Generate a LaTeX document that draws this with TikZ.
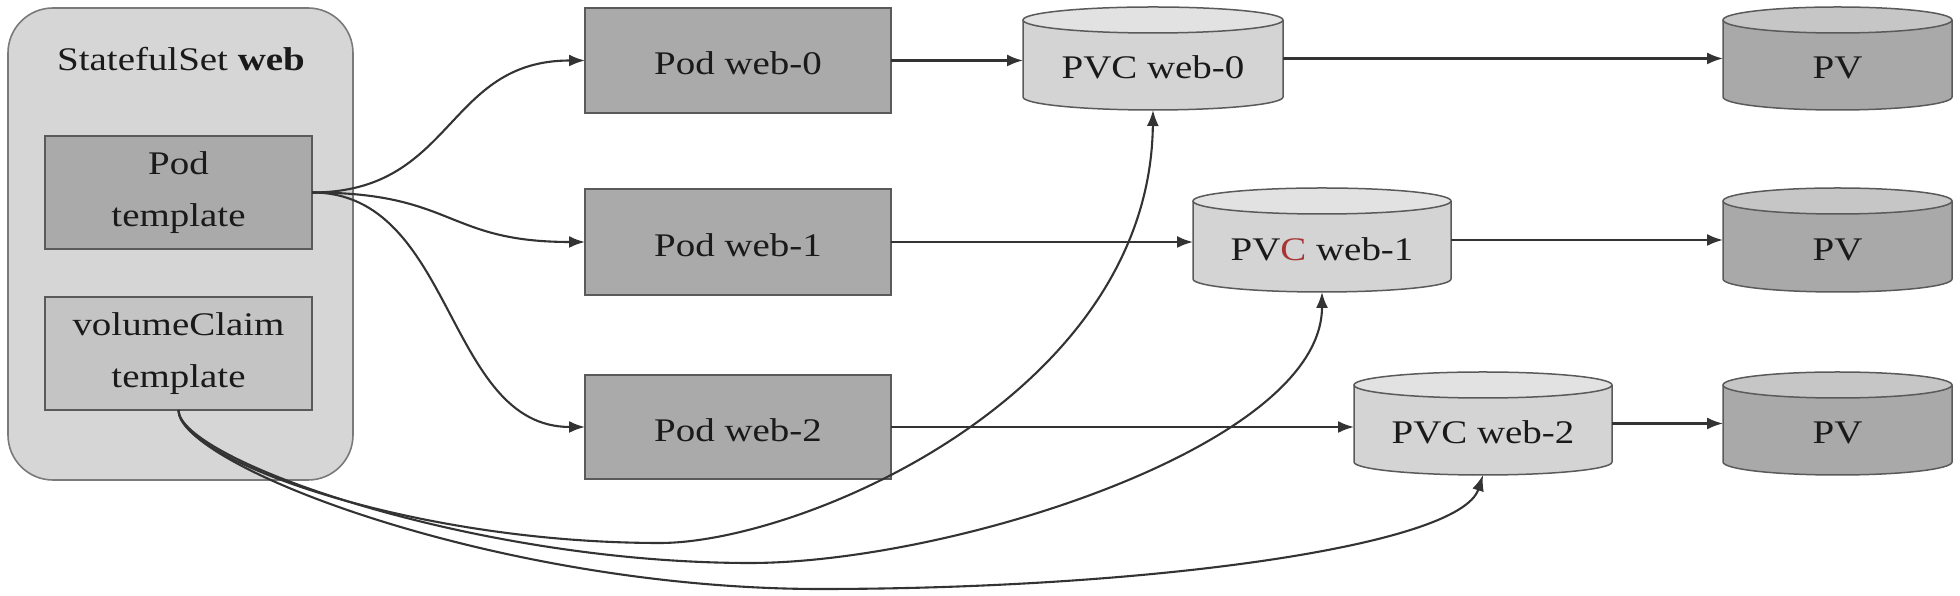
\documentclass[tikz,border=0pt]{standalone}
\usepackage{fontspec}
\setmainfont{Liberation Serif}[FakeStretch=1.18]
\usetikzlibrary{arrows.meta}
\pgfdeclarelayer{bg}
\pgfsetlayers{bg,main}
\definecolor{ssfill}{HTML}{D6D6D6}
\definecolor{ssline}{HTML}{7A7A7A}
\definecolor{darkfill}{HTML}{AAAAAA}
\definecolor{midfill}{HTML}{C4C4C4}
\definecolor{boxline}{HTML}{5A5A5A}
\definecolor{pvcbody}{HTML}{D4D4D4}
\definecolor{pvctop}{HTML}{E2E2E2}
\definecolor{pvbody}{HTML}{A9A9A9}
\definecolor{pvtop}{HTML}{C6C6C6}
\definecolor{arrowc}{HTML}{333333}
\definecolor{txt}{HTML}{1A1A1A}
\definecolor{redc}{HTML}{A83434}
\newcommand\drawcyl[4]{%
  \begin{pgfonlayer}{bg}
  \fill[#3] ([yshift=-13pt]#1.north west) -- ([yshift=13pt]#1.south west)
     arc[start angle=180,end angle=360,x radius=#2pt,y radius=13pt]
     -- ([yshift=-13pt]#1.north east) -- cycle;
  \draw[cylline] ([yshift=-13pt]#1.north west) -- ([yshift=13pt]#1.south west)
     arc[start angle=180,end angle=360,x radius=#2pt,y radius=13pt]
     -- ([yshift=-13pt]#1.north east);
  \filldraw[cylline,fill=#4] ([yshift=-13pt]#1.north) ellipse[x radius=#2pt,y radius=13pt];
  \end{pgfonlayer}}
\begin{document}
\begin{tikzpicture}[x=1pt,y=1pt,
  every node/.style={font=\fontsize{33}{52}\selectfont, text=txt, inner sep=0pt, outer sep=0pt},
  container/.style={draw=ssline, fill=ssfill, line width=1.6pt, rounded corners=45pt,
     minimum width=345pt, minimum height=472pt},
  tmplbox/.style={draw=boxline, line width=1.5pt, minimum width=267pt, minimum height=113pt, align=center},
  podbox/.style={draw=boxline, fill=darkfill, line width=1.5pt, minimum width=306pt, text height=29pt, text depth=0pt},
  cylnode/.style={minimum height=103pt, text height=41pt, text depth=0pt},
  cylline/.style={draw=boxline, line width=1.5pt},
  conn/.style={draw=arrowc, line width=2.1pt, -{Latex[length=16pt,width=12pt]}}]
\useasboundingbox (0,0) rectangle (1960,596);

% container and templates
\node[container] (ss) at (180.5,352) {};
\node[anchor=base] (title) at (181,525) {StatefulSet \textbf{web}};
\node[tmplbox, fill=darkfill] (ptmpl) at (178.5,403.5) {Pod\\template};
\node[tmplbox, fill=midfill] (vct) at (178.5,242.5) {volumeClaim\\template};

% pods
\node[podbox, minimum height=105pt] (pod0) at (738,535.5) {Pod web-0};
\node[podbox, minimum height=106pt] (pod1) at (738,354) {Pod web-1};
\node[podbox, minimum height=104pt] (pod2) at (738,169) {Pod web-2};

% PVCs
\node[cylnode, minimum width=260pt] (pvc0) at (1153,537.5) {PVC web-0};
\node[cylnode, minimum width=258pt, minimum height=104pt] (pvc1) at (1322,356) {PV{\color{redc}C} web-1};
\node[cylnode, minimum width=258pt] (pvc2) at (1483,172.5) {PVC web-2};
\drawcyl{pvc0}{130}{pvcbody}{pvctop}
\drawcyl{pvc1}{129}{pvcbody}{pvctop}
\drawcyl{pvc2}{129}{pvcbody}{pvctop}

% PVs
\node[cylnode, minimum width=229pt] (pv0) at (1837.5,537.5) {PV};
\node[cylnode, minimum width=229pt, minimum height=104pt] (pv1) at (1837.5,356) {PV};
\node[cylnode, minimum width=229pt] (pv2) at (1837.5,172.5) {PV};
\drawcyl{pv0}{114.5}{pvbody}{pvtop}
\drawcyl{pv1}{114.5}{pvbody}{pvtop}
\drawcyl{pv2}{114.5}{pvbody}{pvtop}

% pod template -> pods
\draw[conn] (ptmpl.east) .. controls (455,403.5) and (445,535.5) .. (pod0.west);
\draw[conn] (ptmpl.east) .. controls (455,403.5) and (445,354) .. (pod1.west);
\draw[conn] (ptmpl.east) .. controls (455,403.5) and (445,169) .. (pod2.west);

% pods -> PVCs
\draw[conn] (pod0.east) -- (pod0.east -| pvc0.west);
\draw[conn] (pod1.east) -- (pod1.east -| pvc1.west);
\draw[conn] (pod2.east) -- (pod2.east -| pvc2.west);

% PVCs -> PVs
\draw[conn] (pvc0.east) -- (pvc0.east -| pv0.west);
\draw[conn] (pvc1.east) -- (pvc1.east -| pv1.west);
\draw[conn] (pvc2.east) -- (pvc2.east -| pv2.west);

% volumeClaim template -> PVCs
\draw[conn] (vct.south) .. controls (178.5,137) and (410,53) .. (660,53)
   .. controls (800,53) and (1150,200) .. (pvc0.south);
\draw[conn] (vct.south) .. controls (178.5,137) and (470,33) .. (750,33)
   .. controls (950,33) and (1322,150) .. (pvc1.south);
\draw[conn] (vct.south) .. controls (178.5,130) and (500,7) .. (820,7)
   .. controls (1150,7) and (1460,50) .. (pvc2.south);
\end{tikzpicture}
\end{document}
